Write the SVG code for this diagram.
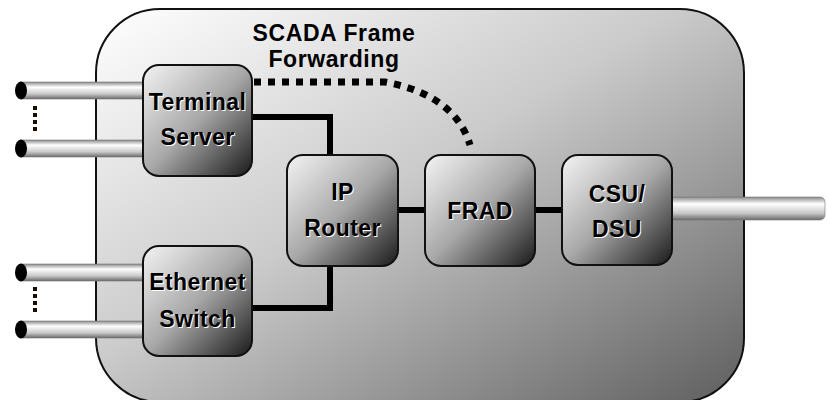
<svg xmlns="http://www.w3.org/2000/svg" width="827" height="400" viewBox="0 0 827 400">
  <defs>
    <linearGradient id="bg" x1="0" y1="0" x2="1" y2="1">
      <stop offset="0" stop-color="#ffffff"/>
      <stop offset="0.45" stop-color="#cbcbcb"/>
      <stop offset="1" stop-color="#5e5e5e"/>
    </linearGradient>
    <linearGradient id="node" x1="0" y1="0" x2="1" y2="1">
      <stop offset="0" stop-color="#f4f4f4"/>
      <stop offset="0.5" stop-color="#a8a8a8"/>
      <stop offset="1" stop-color="#1a1a1a"/>
    </linearGradient>
    <linearGradient id="cable" x1="0" y1="0" x2="0" y2="1">
      <stop offset="0" stop-color="#8a8a8a"/>
      <stop offset="0.3" stop-color="#ffffff"/>
      <stop offset="0.7" stop-color="#c8c8c8"/>
      <stop offset="1" stop-color="#6a6a6a"/>
    </linearGradient>
    <style>
      .nodebox { fill: url(#node); stroke: #111; stroke-width: 2; }
      .cable { fill: url(#cable); stroke: #777; stroke-width: 0.6; }
      .cap { fill: #000; }
      .conn { fill: none; stroke: #000; stroke-width: 6; stroke-linejoin: miter; }
      .dots { fill: none; stroke: #000; stroke-width: 7; stroke-dasharray: 7 7; }
      .vdots { fill: none; stroke: #1a0d00; stroke-width: 4; stroke-dasharray: 4 3; }
      text { font-family: "Liberation Sans", Arial, sans-serif; font-weight: bold; text-anchor: middle; }
      .lbl { font-size: 23px; letter-spacing: 0.4px; fill: #000; }
      .sh { font-size: 23px; letter-spacing: 0.4px; fill: #fff; }
      .title { font-size: 23px; letter-spacing: 0.6px; fill: #000; }
    </style>
  </defs>

  <g id="container">
    <rect x="96" y="9" width="648" height="393" rx="64" ry="64" fill="url(#bg)" stroke="#111" stroke-width="2"/>
  </g>

  <g id="connectors">
    <polyline class="conn" points="252,117 330,117 330,155"/>
    <polyline class="conn" points="252,308 330,308 330,266"/>
    <line class="conn" x1="398" y1="210" x2="425" y2="210"/>
    <line class="conn" x1="535" y1="210" x2="562" y2="210"/>
    <path class="dots" d="M 254 82 H 385 Q 455 95 470 145"/>
  </g>

  <g id="cables">
    <rect class="cable" x="21" y="82" width="124" height="17"/>
    <ellipse class="cap" cx="21" cy="90.5" rx="6" ry="9"/>
    <rect class="cable" x="21" y="140" width="124" height="17"/>
    <ellipse class="cap" cx="21" cy="148.5" rx="6" ry="9"/>
    <line class="vdots" x1="35" y1="106" x2="35" y2="134"/>
    <rect class="cable" x="21" y="264" width="124" height="17"/>
    <ellipse class="cap" cx="21" cy="272.5" rx="6" ry="9"/>
    <rect class="cable" x="21" y="321" width="124" height="17"/>
    <ellipse class="cap" cx="21" cy="329.5" rx="6" ry="9"/>
    <line class="vdots" x1="35" y1="287" x2="35" y2="315"/>
    <rect class="cable" x="665" y="197" width="160" height="23" rx="5" ry="5"/>
  </g>

  <g id="terminal-server">
    <rect class="nodebox" x="143" y="65" width="109" height="111" rx="16"/>
    <text class="sh" x="198.5" y="111">Terminal</text>
    <text class="lbl" x="197.5" y="110">Terminal</text>
    <text class="sh" x="198.5" y="146">Server</text>
    <text class="lbl" x="197.5" y="145">Server</text>
  </g>

  <g id="ethernet-switch">
    <rect class="nodebox" x="143" y="246" width="109" height="110" rx="16"/>
    <text class="sh" x="198.5" y="291">Ethernet</text>
    <text class="lbl" x="197.5" y="290">Ethernet</text>
    <text class="sh" x="198.5" y="328">Switch</text>
    <text class="lbl" x="197.5" y="327">Switch</text>
  </g>

  <g id="ip-router">
    <rect class="nodebox" x="287" y="155" width="111" height="111" rx="16"/>
    <text class="sh" x="343.5" y="201">IP</text>
    <text class="lbl" x="342.5" y="200">IP</text>
    <text class="sh" x="343.5" y="237">Router</text>
    <text class="lbl" x="342.5" y="236">Router</text>
  </g>

  <g id="frad">
    <rect class="nodebox" x="425" y="155" width="110" height="111" rx="16"/>
    <text class="sh" x="481" y="220">FRAD</text>
    <text class="lbl" x="480" y="219">FRAD</text>
  </g>

  <g id="csu-dsu">
    <rect class="nodebox" x="562" y="155" width="110" height="110" rx="16"/>
    <text class="sh" x="618" y="203">CSU/</text>
    <text class="lbl" x="617" y="202">CSU/</text>
    <text class="sh" x="618" y="238">DSU</text>
    <text class="lbl" x="617" y="237">DSU</text>
  </g>

  <g id="scada-label">
    <text class="title" x="334" y="41">SCADA Frame</text>
    <text class="title" x="334" y="67">Forwarding</text>
  </g>
</svg>
